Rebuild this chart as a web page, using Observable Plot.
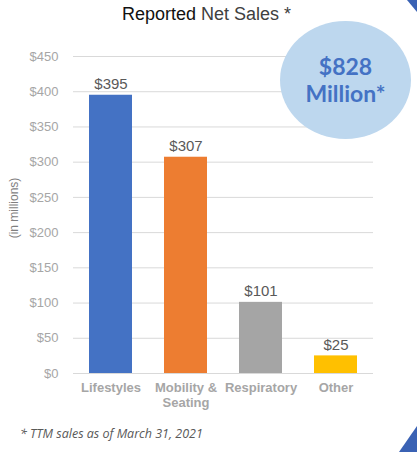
<!DOCTYPE html>
<html>
<head>
<meta charset="utf-8">
<script src="https://cdn.jsdelivr.net/npm/d3@7"></script>
<script src="https://cdn.jsdelivr.net/npm/@observablehq/plot@0.6"></script>
<style>
  body { margin: 0; background: #fff; }
  #wrap { position: relative; width: 417px; height: 452px; overflow: hidden; font-family: Arial, "Liberation Sans", sans-serif; }
  #title { position: absolute; top: 4px; left: 122px; font-size: 18px; color: #111; white-space: nowrap; }
  #title span { color: #404040; }
  #chart { position: absolute; top: 30px; left: 0; }
  #ylab { position: absolute; left: 14px; top: 208px; transform: translate(-50%, -50%) rotate(-90deg); font-size: 12px; color: #7f7f7f; white-space: nowrap; }
  #bubble { position: absolute; left: 280px; top: 21px; width: 131px; height: 118px; border-radius: 50%; background: #bdd7ee;
    display: flex; flex-direction: column; align-items: center; justify-content: center; font-family: Lato, "Open Sans", sans-serif; font-weight: bold; color: #4472c4; font-size: 23px; line-height: 27px; }
  #note { position: absolute; left: 20px; top: 425px; font-family: "Open Sans", sans-serif; font-style: italic; font-size: 12.5px; color: #595959; white-space: nowrap; }
  .tri1 { position: absolute; right: 0; top: 0; width: 0; height: 0; border-top: 12px solid #3a62b4; border-left: 10px solid transparent; }
  .tri2 { position: absolute; right: 0; bottom: 0; width: 0; height: 0; border-bottom: 26px solid #3a62b4; border-left: 18px solid transparent; }
</style>
</head>
<body>
<div id="wrap">
  <div id="title">Reported <span>Net Sales *</span></div>
  <div id="chart"></div>
  <div id="ylab">(in millions)</div>
  <div id="bubble"><div>$828</div><div>Million*</div></div>
  <div id="note">* TTM sales as of March 31, 2021</div>
  <div class="tri1"></div>
  <div class="tri2"></div>
</div>
<script>
const categories = ['Lifestyles', 'Mobility &\nSeating', 'Respiratory', 'Other']
const sales = [395, 307, 101, 25]
const colors = ['#4472c4', '#ed7d31', '#a5a5a5', '#ffc000']
const yTicks = [0, 50, 100, 150, 200, 250, 300, 350, 400, 450]

const data = categories.map((c, i) => ({cat: c, value: sales[i], color: colors[i]}))

const chart = Plot.plot({
  width: 417,
  height: 390,
  marginTop: 26,
  marginBottom: 47,
  marginLeft: 73,
  marginRight: 44,
  style: {fontFamily: 'Arial, "Liberation Sans", sans-serif', background: 'transparent'},
  x: {domain: categories, paddingInner: 0.43, paddingOuter: 0.215, label: null},
  y: {domain: [0, 450], label: null},
  marks: [
    Plot.gridY(yTicks, {stroke: '#d9d9d9', strokeOpacity: 1}),
    Plot.barY(data, {x: 'cat', y: 'value', fill: 'color'}),
    Plot.text(data, {x: 'cat', y: 'value', text: d => '$' + d.value, lineAnchor: 'bottom', dy: -6, fontSize: 15, fill: '#595959'}),
    Plot.axisY(yTicks, {tickSize: 0, tickPadding: 15, tickFormat: d => '$' + d, fontSize: 13, fill: '#a6a6a6', label: null}),
    Plot.axisX({tickSize: 0, tickPadding: 9, fontSize: 13, fontWeight: 'bold', fill: '#a6a6a6', lineHeight: 1.08, label: null})
  ]
})
d3.select('#chart').append(() => chart)
</script>
</body>
</html>
